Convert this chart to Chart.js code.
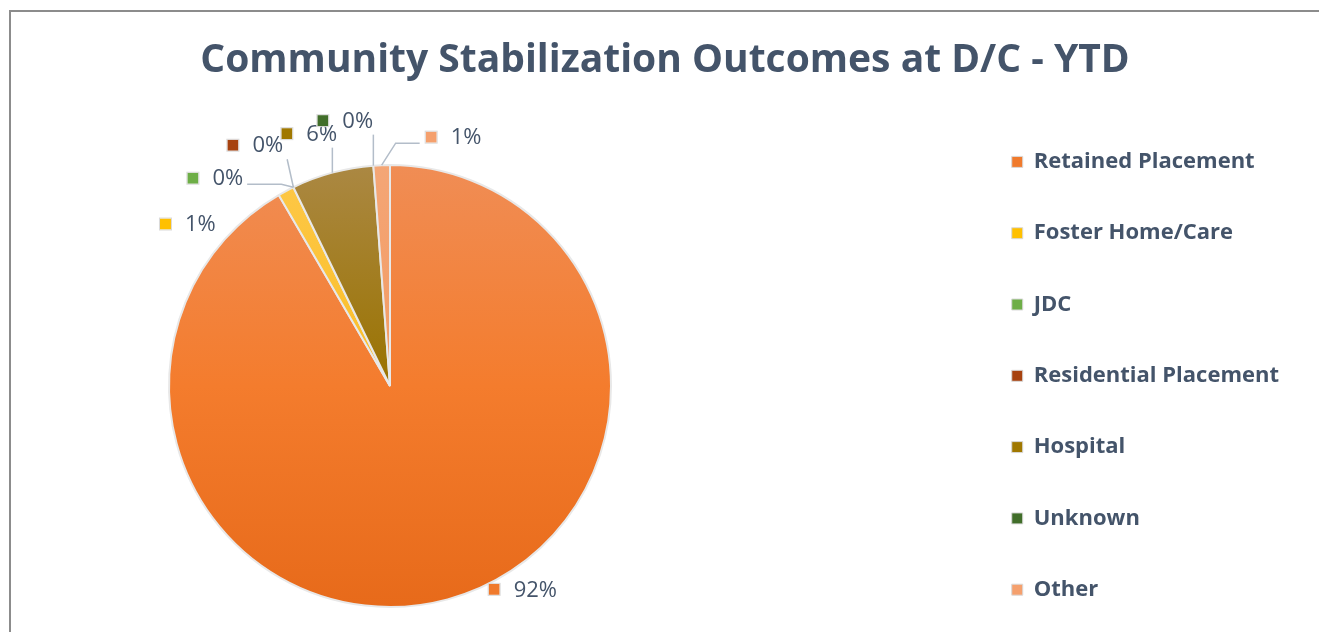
<!DOCTYPE html>
<html>
<head>
<meta charset="utf-8">
<script src="https://cdn.jsdelivr.net/npm/chart.js@4/dist/chart.umd.min.js"></script>
<style>
  html, body { margin: 0; padding: 0; background: #fff; }
  #wrap { width: 1319px; height: 632px; position: relative; }
</style>
</head>
<body>
<div id="wrap"><canvas id="outcomes-chart"></canvas></div>
<script>
const categories = [
    "Retained Placement",
    "Foster Home/Care",
    "JDC",
    "Residential Placement",
    "Hospital",
    "Unknown",
    "Other",
];
// share of discharges, percent
const shares = [91.6, 1.2, 0, 0, 6.0, 0, 1.2];

const swatch = ["#F07A2C", "#FFC000", "#6EAE47", "#A7420F", "#A07800", "#416E2A", "#F5A06D"];
const shadeTop = ["#F08D55", "#FDC848", "#7CBA55", "#B5521F", "#AB8843", "#4E7C36", "#F4A676"];
const shadeMid = ["#F47C2D", "#FBBE28", "#6EAE47", "#A7420F", "#9A7300", "#416E2A", "#F39A62"];
const shadeBottom = ["#E76A1A", "#F2B000", "#5E9E38", "#93360A", "#8C6600", "#345C22", "#EE8C52"];

// label placement relative to the slice edge (marker left, text middle)
const labelShift = [[41, -10], [-126, 33], [-106, -9], [-66, -42], [-51, -39], [-56, -45], [44, -28]];
const withLeader = [false, false, true, true, true, true, true];

const PIE_CX = 390;
const PIE_CY = 386;
const PIE_R = 221;

const textColor = "#44546A";
const fontFamily = "'Open Sans', 'Noto Sans', sans-serif";

const framePlugin = {
    id: "frame",
    beforeDraw(chart) {
        const { ctx, width, height } = chart;
        ctx.save();
        ctx.strokeStyle = "#8C8C8C";
        ctx.lineWidth = 2;
        ctx.beginPath();
        ctx.moveTo(10, height);
        ctx.lineTo(10, 11);
        ctx.lineTo(width, 11);
        ctx.stroke();
        ctx.restore();
    },
};

// keep the pie on the left side, legend stays where the layout puts it
const pieBoxPlugin = {
    id: "pieBox",
    afterLayout(chart) {
        const a = chart.chartArea;
        a.left = PIE_CX - PIE_R - 1;
        a.right = PIE_CX + PIE_R + 1;
        a.top = PIE_CY - PIE_R - 1;
        a.bottom = PIE_CY + PIE_R + 1;
        a.width = a.right - a.left;
        a.height = a.bottom - a.top;
    },
};

const labelPlugin = {
    id: "sliceLabels",
    afterDatasetsDraw(chart) {
        const { ctx } = chart;
        const meta = chart.getDatasetMeta(0);
        ctx.save();
        ctx.font = "22px " + fontFamily;
        ctx.textBaseline = "middle";
        meta.data.forEach((arc, i) => {
            const { x, y, startAngle, endAngle, outerRadius } = arc.getProps(
                ["x", "y", "startAngle", "endAngle", "outerRadius"], true);
            const mid = (startAngle + endAngle) / 2;
            const ax = x + Math.cos(mid) * outerRadius;
            const ay = y + Math.sin(mid) * outerRadius;
            const text = Math.round(shares[i]) + "%";
            const left = ax + labelShift[i][0];
            const cy = ay + labelShift[i][1];
            const right = left + 25 + ctx.measureText(text).width;

            if (withLeader[i]) {
                ctx.strokeStyle = "#B3BDC9";
                ctx.lineWidth = 1.5;
                ctx.beginPath();
                if (ay - cy > 20 && ax > left - 14 && ax < right + 14) {
                    ctx.moveTo(Math.min(Math.max(ax, left), right + 4), cy + 14);
                } else {
                    const sx = ax < left ? left - 6 : right + 4;
                    const ex = ax < sx ? ax + 14 : ax - 12;
                    ctx.moveTo(sx, cy + 6);
                    ctx.lineTo(ex, cy + 6);
                }
                ctx.lineTo(ax, ay);
                ctx.stroke();
            }

            ctx.fillStyle = swatch[i];
            ctx.fillRect(left, cy - 5.5, 11, 11);
            ctx.strokeStyle = "#DADADA";
            ctx.lineWidth = 1;
            ctx.strokeRect(left - 0.5, cy - 6, 12, 12);
            ctx.fillStyle = textColor;
            ctx.fillText(text, left + 25, cy + 1);
        });
        ctx.restore();
    },
};

function sliceFill(context) {
    const i = context.dataIndex;
    const area = context.chart.chartArea;
    if (!area) return swatch[i];
    const g = context.chart.ctx.createLinearGradient(0, area.top, 0, area.bottom);
    g.addColorStop(0, shadeTop[i]);
    g.addColorStop(0.5, shadeMid[i]);
    g.addColorStop(1, shadeBottom[i]);
    return g;
}

const config = {
    type: "pie",
    data: {
        labels: categories,
        datasets: [
            {
                data: shares,
                backgroundColor: sliceFill,
                borderColor: "#E8E8E8",
                borderWidth: 2,
            },
        ],
    },
    options: {
        responsive: true,
        maintainAspectRatio: false,
        animation: false,
        layout: { padding: { top: 0, right: 30, bottom: -18, left: 41 } },
        plugins: {
            title: {
                display: true,
                text: "Community Stabilization Outcomes at D/C - YTD",
                color: textColor,
                font: { family: fontFamily, size: 39, weight: "bold", lineHeight: 1.2 },
                padding: { top: 37.8, bottom: 10 },
            },
            legend: {
                position: "right",
                align: "end",
                fullSize: true,
                labels: {
                    color: textColor,
                    boxWidth: 11,
                    boxHeight: 11,
                    padding: 49.3,
                    font: { family: fontFamily, size: 22, weight: "bold" },
                    generateLabels() {
                        return categories.map((c, i) => ({
                            text: c,
                            fillStyle: swatch[i],
                            strokeStyle: "#DADADA",
                            lineWidth: 1,
                            fontColor: textColor,
                            hidden: false,
                            index: i,
                        }));
                    },
                },
            },
            tooltip: { enabled: false },
        },
    },
    plugins: [framePlugin, pieBoxPlugin, labelPlugin],
};

new Chart(document.getElementById("outcomes-chart"), config);
</script>
</body>
</html>
